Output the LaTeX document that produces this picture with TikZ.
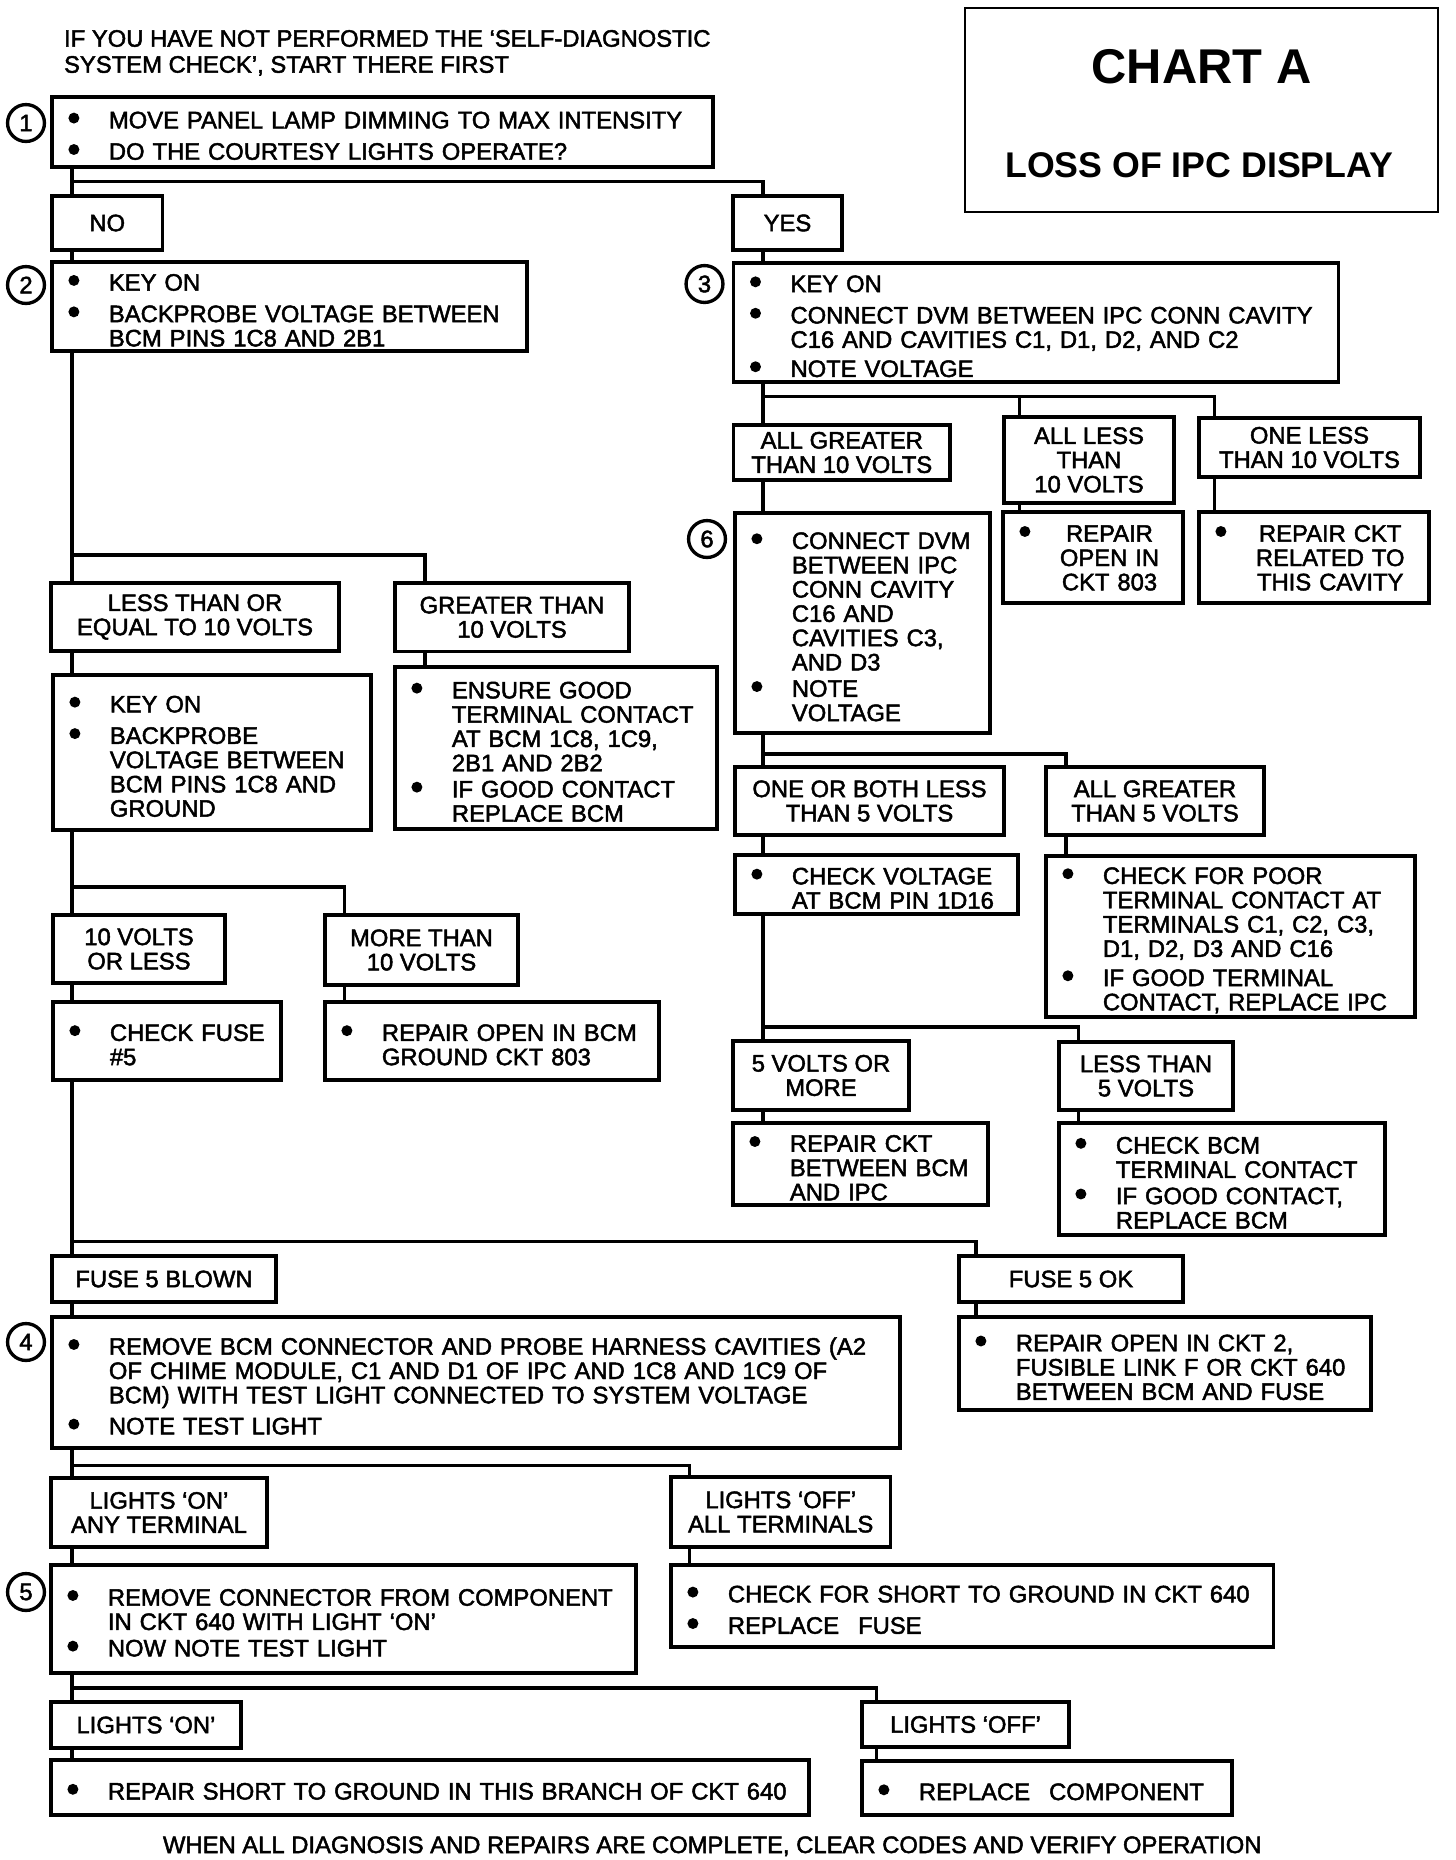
\documentclass[tikz,border=0pt]{standalone}
\usepackage{fontspec}
\setmainfont{Liberation Sans}
\newfontfamily\bodyf{Liberation Sans}[FakeBold=2]
\newfontfamily\ttlf{Liberation Sans Bold}
\newcommand{\bodyfont}{\bodyf\fontsize{10}{10.2}\selectfont}
\newcommand{\bul}{\tikz[baseline=-4.3pt]\fill (0,0) circle (2.3pt);}
\newcommand{\itm}[1]{\par\noindent\makebox[17pt][l]{\bul}\parbox[t]{\dimexpr\hsize-8pt\relax}{\raggedright #1}\par}
\newcommand{\citm}[1]{\par\noindent\makebox[17pt][l]{\bul}\begin{tabular}[t]{@{}c@{}}#1\end{tabular}\par}
\newcommand{\igap}{\vskip 3pt}
\tikzset{
  bbx/.style={draw, line width=1.4pt, anchor=north west, inner xsep=6.9pt, inner ysep=0pt, outer sep=0pt, align=left, font=\bodyfont},
  lbx/.style={draw, line width=1.4pt, inner sep=0pt, outer sep=0pt, align=center, font=\bodyfont},
  conn/.style={line width=1.4pt},
  num/.style={circle, draw, line width=1.4pt, minimum size=15.5pt, inner sep=0pt, font=\bodyfont},
  txt/.style={anchor=base west, inner sep=0pt, font=\bodyfont}
}
\newcommand{\bbox}[6]{%
  \pgfmathsetlengthmacro{\bxw}{(#4-#2)*0.42pt-13.8pt}%
  \pgfmathsetlengthmacro{\bxh}{(#5-#3)*0.42pt}%
  \node[bbx, text width=\bxw, minimum height=\bxh] (#1) at (#2,#3) {#6};}
\newcommand{\lbox}[6]{%
  \pgfmathsetlengthmacro{\bxw}{(#4-#2)*0.42pt}%
  \pgfmathsetlengthmacro{\bxh}{(#5-#3)*0.42pt}%
  \node[lbx, minimum width=\bxw, minimum height=\bxh] (#1) at ({(#2+#4)/2},{(#3+#5)/2}) {#6};}
\begin{document}
\begin{tikzpicture}[x=0.42pt, y=-0.42pt]
\useasboundingbox (0,0) rectangle (1456,1860);

% header / footer
\node[txt] (h1) at (63.6,46.7) {IF YOU HAVE NOT PERFORMED THE ‘SELF-DIAGNOSTIC};
\node[txt] (h2) at (63.6,72.7) {SYSTEM CHECK’, START THERE FIRST};
\node[txt] (ft) at (162.5,1853) {WHEN ALL DIAGNOSIS AND REPAIRS ARE COMPLETE, CLEAR CODES AND VERIFY OPERATION};

% title
\node[draw, line width=1.2pt, minimum width=198.7pt, minimum height=85.7pt, inner sep=0pt, outer sep=0pt] (chart) at (1201.5,110) {};
\node[anchor=base, inner sep=0pt, font=\ttlf\fontsize{20.5}{22}\selectfont] (ct1) at (1201.5,83) {CHART A};
\node[anchor=base, inner sep=0pt, font=\ttlf\fontsize{15}{16}\selectfont] (ct2) at (1199,177) {LOSS OF IPC DISPLAY};

% circled step numbers
\node[num] (c1) at (26,123) {1};
\node[num] (c2) at (26,285) {2};
\node[num] (c3) at (704.5,284) {3};
\node[num] (c6) at (707,539) {6};
\node[num] (c4) at (26,1342) {4};
\node[num] (c5) at (26,1592) {5};

% left column
\bbox{b1}{52}{97}{713}{167}{\itm{MOVE PANEL LAMP DIMMING TO MAX INTENSITY}\igap\itm{DO THE COURTESY LIGHTS OPERATE?}}
\lbox{no}{52}{196}{162.5}{250}{NO}
\lbox{yes}{733}{196}{842}{250}{YES}
\bbox{b2}{52}{262}{527}{351}{\itm{KEY ON}\igap\itm{BACKPROBE VOLTAGE BETWEEN\\BCM PINS 1C8 AND 2B1}}
\bbox{b3}{733.6}{263}{1338.5}{382}{\itm{KEY ON}\igap\itm{CONNECT DVM BETWEEN IPC CONN CAVITY\\C16 AND CAVITIES C1, D1, D2, AND C2}\igap\itm{NOTE VOLTAGE}}
\lbox{lessor}{51}{583}{339}{651}{LESS THAN OR\\EQUAL TO 10 VOLTS}
\lbox{grt}{395}{583}{629}{651.5}{GREATER THAN\\10 VOLTS}
\bbox{keyon2}{53}{675}{371}{830}{\itm{KEY ON}\igap\itm{BACKPROBE\\VOLTAGE BETWEEN\\BCM PINS 1C8 AND\\GROUND}}
\bbox{ensure}{395}{667}{717}{829}{\itm{ENSURE GOOD\\TERMINAL CONTACT\\AT BCM 1C8, 1C9,\\2B1 AND 2B2}\igap\itm{IF GOOD CONTACT\\REPLACE BCM}}
\lbox{tenless}{53}{915}{225}{983}{10 VOLTS\\OR LESS}
\lbox{morethan}{325}{915}{518}{985}{MORE THAN\\10 VOLTS}
\bbox{chkfuse}{53}{1002}{281}{1080}{\itm{CHECK FUSE\\\#5}}
\bbox{repbcm}{325}{1002}{659}{1080}{\itm{REPAIR OPEN IN BCM\\GROUND CKT 803}}

% right column
\lbox{allgt10}{733.6}{425}{950}{480}{ALL GREATER\\THAN 10 VOLTS}
\lbox{allless}{1004}{417}{1174}{503}{ALL LESS\\THAN\\10 VOLTS}
\lbox{oneless}{1199}{418}{1420}{477}{ONE LESS\\THAN 10 VOLTS}
\bbox{b6}{735}{513}{990}{733}{\itm{CONNECT DVM\\BETWEEN IPC\\CONN CAVITY\\C16 AND\\CAVITIES C3,\\AND D3}\igap\itm{NOTE\\VOLTAGE}}
\bbox{rep803}{1003}{512}{1183}{603}{\citm{REPAIR\\OPEN IN\\CKT 803}}
\bbox{repcav}{1199}{512}{1429}{603}{\citm{REPAIR CKT\\RELATED TO\\THIS CAVITY}}
\lbox{oneboth}{735}{767}{1004}{835}{ONE OR BOTH LESS\\THAN 5 VOLTS}
\lbox{allgt5}{1046}{767}{1264}{835}{ALL GREATER\\THAN 5 VOLTS}
\bbox{chkv}{735}{855}{1018}{914}{\itm{CHECK VOLTAGE\\AT BCM PIN 1D16}}
\bbox{chkpoor}{1046}{856}{1415}{1017}{\itm{CHECK FOR POOR\\TERMINAL CONTACT AT\\TERMINALS C1, C2, C3,\\D1, D2, D3 AND C16}\igap\itm{IF GOOD TERMINAL\\CONTACT, REPLACE IPC}}
\lbox{fivemore}{733}{1041}{909}{1110}{5 VOLTS OR\\MORE}
\lbox{lt5}{1059}{1042}{1233}{1110}{LESS THAN\\5 VOLTS}
\bbox{repbi}{733}{1123}{988}{1205}{\itm{REPAIR CKT\\BETWEEN BCM\\AND IPC}}
\bbox{chkbcm}{1059}{1123}{1385}{1235}{\itm{CHECK BCM\\TERMINAL CONTACT}\igap\itm{IF GOOD CONTACT,\\REPLACE BCM}}

% lower part
\lbox{blown}{52}{1256}{276}{1302}{FUSE 5 BLOWN}
\lbox{fuseok}{959}{1256}{1183}{1302}{FUSE 5 OK}
\bbox{b4}{52}{1317}{900}{1448}{\itm{REMOVE BCM CONNECTOR AND PROBE HARNESS CAVITIES (A2\\OF CHIME MODULE, C1 AND D1 OF IPC AND 1C8 AND 1C9 OF\\BCM) WITH TEST LIGHT CONNECTED TO SYSTEM VOLTAGE}\igap\itm{NOTE TEST LIGHT}}
\bbox{rep2}{959}{1317}{1371}{1410}{\itm{REPAIR OPEN IN CKT 2,\\FUSIBLE LINK F OR CKT 640\\BETWEEN BCM AND FUSE}}
\lbox{lon}{51}{1478}{267}{1547}{LIGHTS ‘ON’\\ANY TERMINAL}
\lbox{loff}{671}{1477}{890.5}{1547}{LIGHTS ‘OFF’\\ALL TERMINALS}
\bbox{b5}{51}{1565}{636}{1673}{\itm{REMOVE CONNECTOR FROM COMPONENT\\IN CKT 640 WITH LIGHT ‘ON’}\igap\itm{NOW NOTE TEST LIGHT}}
\bbox{short}{671}{1565}{1273.5}{1647}{\itm{CHECK FOR SHORT TO GROUND IN CKT 640}\igap\itm{REPLACE\hspace{8pt}FUSE}}
\lbox{lon2}{51}{1702}{241}{1748}{LIGHTS ‘ON’}
\lbox{loff2}{862}{1702}{1069}{1747}{LIGHTS ‘OFF’}
\bbox{repshort}{51}{1760}{809}{1815}{\itm{REPAIR SHORT TO GROUND IN THIS BRANCH OF CKT 640}}
\bbox{repcomp}{862}{1761}{1232}{1815}{\itm{REPLACE\hspace{8pt}COMPONENT}}

% connector columns and junctions
\coordinate (xL) at (72,0);
\coordinate (xR) at (763,0);
\coordinate (xG) at (425,0);
\coordinate (xM) at (344.5,0);
\coordinate (xA) at (1019.6,0);
\coordinate (xO) at (1214.5,0);
\coordinate (x5) at (1066,0);
\coordinate (xT) at (1078.5,0);
\coordinate (xF) at (976,0);
\coordinate (xS) at (689.4,0);
\coordinate (xC) at (876.6,0);
\coordinate (j1) at (72,181.7);
\coordinate (j2) at (72,555);
\coordinate (j3) at (72,887);
\coordinate (j4) at (72,1241.7);
\coordinate (j5) at (72,1465.7);
\coordinate (j6) at (72,1688);
\coordinate (r1) at (763,396.7);
\coordinate (r2) at (763,754);
\coordinate (r3) at (763,1027);

% connectors, left trunk
\draw[conn] (b1.south -| xL) -- (no.north -| xL);
\draw[conn] (j1) -| (yes.north -| xR);
\draw[conn] (no.south -| xL) -- (b2.north -| xL);
\draw[conn] (yes.south -| xR) -- (b3.north -| xR);
\draw[conn] (b2.south -| xL) -- (lessor.north -| xL);
\draw[conn] (j2) -| (grt.north -| xG);
\draw[conn] (lessor.south -| xL) -- (keyon2.north -| xL);
\draw[conn] (grt.south -| xG) -- (ensure.north -| xG);
\draw[conn] (keyon2.south -| xL) -- (tenless.north -| xL);
\draw[conn] (j3) -| (morethan.north -| xM);
\draw[conn] (tenless.south -| xL) -- (chkfuse.north -| xL);
\draw[conn] (morethan.south -| xM) -- (repbcm.north -| xM);
\draw[conn] (chkfuse.south -| xL) -- (blown.north -| xL);
\draw[conn] (j4) -| (fuseok.north -| xF);
\draw[conn] (blown.south -| xL) -- (b4.north -| xL);
\draw[conn] (fuseok.south -| xF) -- (rep2.north -| xF);
\draw[conn] (b4.south -| xL) -- (lon.north -| xL);
\draw[conn] (j5) -| (loff.north -| xS);
\draw[conn] (lon.south -| xL) -- (b5.north -| xL);
\draw[conn] (loff.south -| xS) -- (short.north -| xS);
\draw[conn] (b5.south -| xL) -- (lon2.north -| xL);
\draw[conn] (j6) -| (loff2.north -| xC);
\draw[conn] (lon2.south -| xL) -- (repshort.north -| xL);
\draw[conn] (loff2.south -| xC) -- (repcomp.north -| xC);

% connectors, right trunk
\draw[conn] (b3.south -| xR) -- (allgt10.north -| xR);
\draw[conn] (r1) -| (oneless.north -| xO);
\draw[conn] (r1 -| xA) -- (allless.north -| xA);
\draw[conn] (allgt10.south -| xR) -- (b6.north -| xR);
\draw[conn] (allless.south -| xA) -- (rep803.north -| xA);
\draw[conn] (oneless.south -| xO) -- (repcav.north -| xO);
\draw[conn] (b6.south -| xR) -- (oneboth.north -| xR);
\draw[conn] (r2) -| (allgt5.north -| x5);
\draw[conn] (oneboth.south -| xR) -- (chkv.north -| xR);
\draw[conn] (allgt5.south -| x5) -- (chkpoor.north -| x5);
\draw[conn] (chkv.south -| xR) -- (fivemore.north -| xR);
\draw[conn] (r3) -| (lt5.north -| xT);
\draw[conn] (fivemore.south -| xR) -- (repbi.north -| xR);
\draw[conn] (lt5.south -| xT) -- (chkbcm.north -| xT);
\end{tikzpicture}
\end{document}
